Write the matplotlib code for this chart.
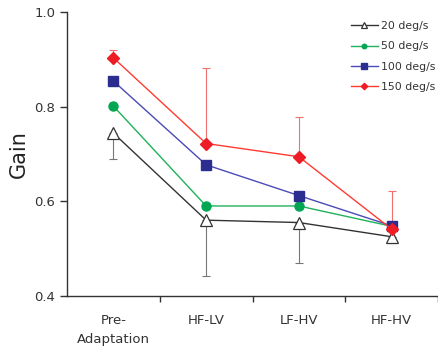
import matplotlib
matplotlib.use("Agg")
import matplotlib.pyplot as plt
import numpy as np

categories = ["Pre-\nAdaptation", "HF-LV", "LF-HV", "HF-HV"]
labels = ["20 deg/s", "50 deg/s", "100 deg/s", "150 deg/s"]
g20 = [0.744, 0.560, 0.555, 0.525]
g50 = [0.801, 0.590, 0.590, 0.547]
g100 = [0.854, 0.677, 0.612, 0.548]
g150 = [0.903, 0.722, 0.694, 0.541]
err20_low = [0.054, 0.118, 0.085, 0.013]
err150_up = [0.017, 0.160, 0.084, 0.081]

fig = plt.figure(figsize=(4.38, 3.51), dpi=100)
ax = fig.add_axes([0.153, 0.157, 0.847, 0.809])
x = np.arange(len(categories))

ax.errorbar(x, g20, yerr=[err20_low, [0]*4], fmt="none", ecolor="#777777",
            elinewidth=0.8, capsize=3, capthick=0.8, zorder=1)
ax.errorbar(x, g150, yerr=[[0]*4, err150_up], fmt="none", ecolor="#f07070",
            elinewidth=0.8, capsize=3, capthick=0.8, zorder=1)

ax.plot(x, g20, color="#333333", lw=1.0, marker="^", ms=8.5, mfc="white",
        mec="#333333", mew=0.9, label=labels[0], zorder=3)
ax.plot(x, g50, color="#1fb25a", lw=1.0, marker="o", ms=6.5, mfc="#00a651",
        mec="#00a651", label=labels[1], zorder=4)
ax.plot(x, g100, color="#4a4ab8", lw=1.0, marker="s", ms=7.5, mfc="#2b2e8f",
        mec="#2b2e8f", label=labels[2], zorder=5)
ax.plot(x, g150, color="#ff3b30", lw=1.0, marker="D", ms=6.5, mfc="#ee1c24",
        mec="#ee1c24", label=labels[3], zorder=6)

ax.set_xlim(-0.5, 3.5)
ax.set_ylim(0.4, 1.0)
ax.set_yticks([0.4, 0.6, 0.8, 1.0])
ax.set_yticklabels(["0.4", "0.6", "0.8", "1.0"])
ax.set_xticks(x)
ax.set_xticklabels(categories, fontsize=9.5, color="#333333", linespacing=1.6)
ax.tick_params(axis="x", which="major", length=0, pad=13)
ax.set_xticks(np.arange(-0.5, 3.6, 1.0)[1:], minor=True)
ax.tick_params(axis="x", which="minor", length=4, width=1, color="#333333")
ax.tick_params(axis="y", labelsize=9.5, labelcolor="#333333", length=5,
               width=1, color="#333333")
for s in ["top", "right"]:
    ax.spines[s].set_visible(False)
for s in ["left", "bottom"]:
    ax.spines[s].set_color("#333333")
    ax.spines[s].set_linewidth(1.0)

ax.set_ylabel("Gain", fontsize=15, color="#222222", labelpad=4)

handles, lbls = ax.get_legend_handles_labels()
leg = ax.legend(handles, lbls, loc="upper left", bbox_to_anchor=(0.765, 0.968),
                frameon=False, fontsize=7.8, markerscale=0.5, handlelength=2.5,
                handletextpad=0.3, labelspacing=0.95, borderpad=0,
                borderaxespad=0)
for t in leg.get_texts():
    t.set_color("#333333")

fig.savefig("out.png", dpi=100)
